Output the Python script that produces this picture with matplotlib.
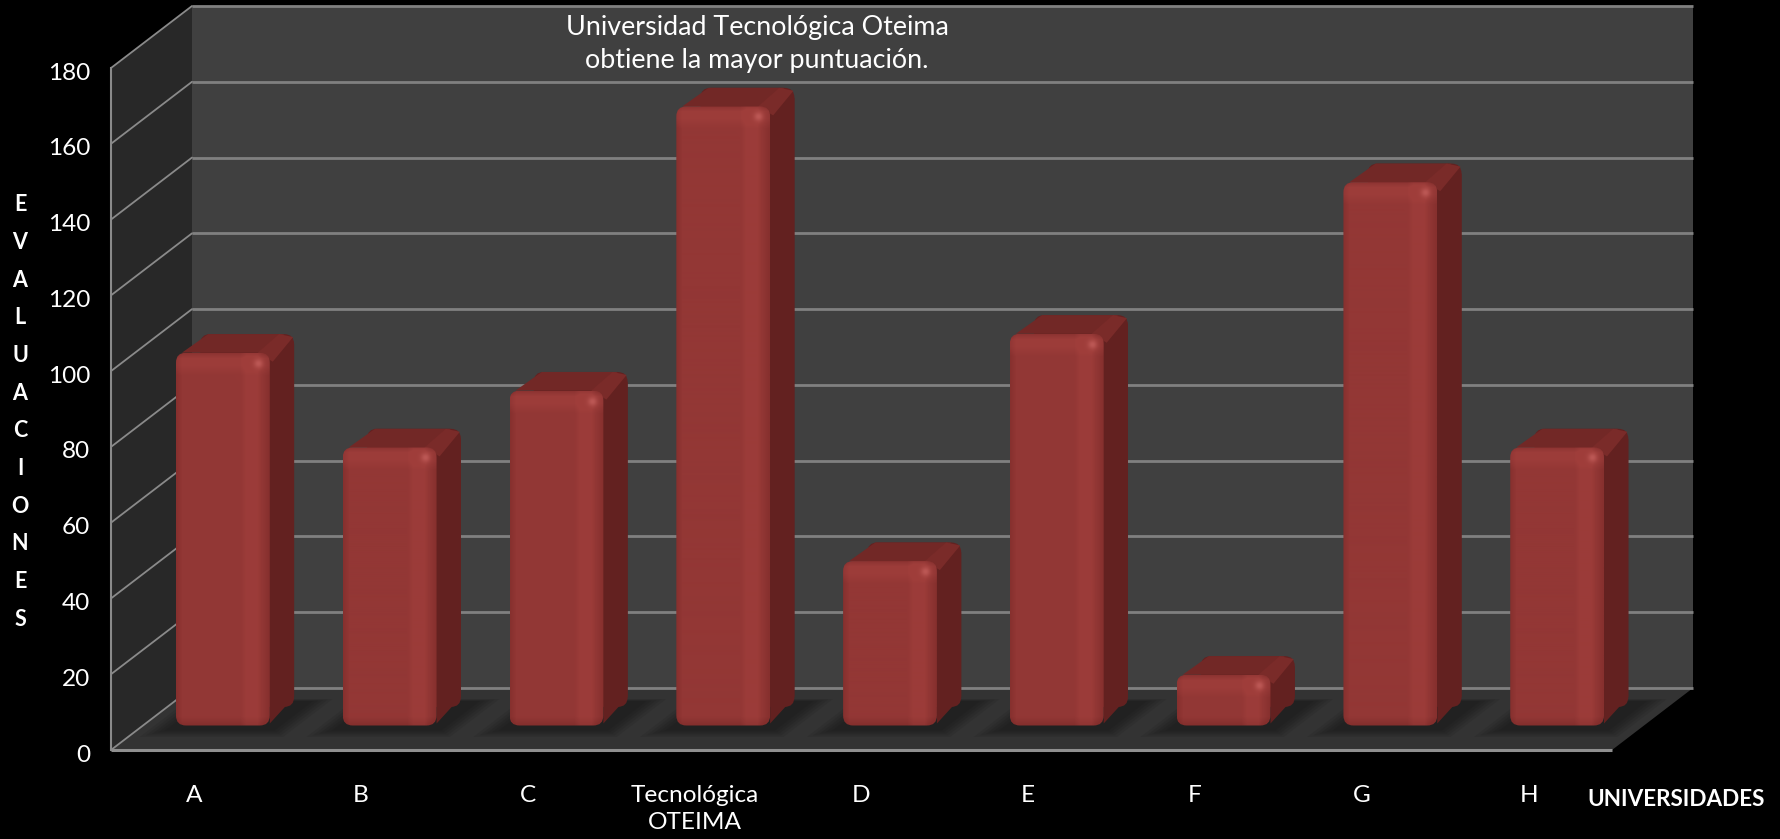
import numpy as np
import matplotlib
matplotlib.use("Agg")
import matplotlib.pyplot as plt
from matplotlib.patches import Polygon, FancyBboxPatch
from matplotlib.transforms import ScaledTranslation

categories = ["A", "B", "C", "Tecnológica\nOTEIMA", "D", "E", "F", "G", "H"]
values = [100, 75, 90, 165, 45, 105, 15, 145, 75]
y_ticks = [0, 20, 40, 60, 80, 100, 120, 140, 160, 180]
title_text = "Universidad Tecnológica Oteima\nobtiene la mayor puntuación."
x_title = "UNIVERSIDADES"
y_title = "EVALUACIONES"

W, H = 1781, 839
plt.rcParams["font.family"] = ["Lato", "DejaVu Sans"]
fig = plt.figure(figsize=(W / 100, H / 100), dpi=100, facecolor="black")
ax = fig.add_axes([111 / W, (H - 750) / H, 1501 / W, 682 / H])
ax.set_xlim(0, len(categories))
ax.set_ylim(0, y_ticks[-1])
ax.patch.set_visible(False)
for s in ax.spines.values():
    s.set_visible(False)

PX = 1501 / len(categories)          # pixels per category
PY = 682 / y_ticks[-1]               # pixels per value unit
DX, DY = 81 / PX, 62 / PY            # full depth of the box in data units


def P(x, y, d):
    return (x + d * DX, y + d * DY)


def poly(pts, color, z, **kw):
    ax.add_patch(Polygon(pts, closed=True, facecolor=color, edgecolor="none",
                         zorder=z, clip_on=False, **kw))


n = len(categories)
top = y_ticks[-1]
# walls and floor
poly([P(0, 0, 1), P(n, 0, 1), P(n, top, 1), P(0, top, 1)], "#404040", 1)
poly([P(0, 0, 0), P(0, 0, 1), P(0, top, 1), P(0, top, 0)], "#282828", 1)
poly([P(0, 0, 0), P(n, 0, 0), P(n, 0, 1), P(0, 0, 1)], "#333333", 1)

# floor shadows (soft edges by layering)
for i in range(n):
    for grow, alpha in [(0.0, 0.12), (0.025, 0.12), (0.05, 0.14), (0.075, 0.14), (0.10, 0.14)]:
        a, b = i + 0.07 + grow, i + 0.93 - grow
        d0, d1 = 0.21 + grow, 0.82 - grow * 0.3
        poly([P(a, 0, d0), P(b, 0, d0), P(b, 0, d1), P(a, 0, d1)],
             "#151515", 2, alpha=alpha)

# grid
for v in y_ticks:
    xs, ys = zip(P(0, v, 0), P(0, v, 1))
    ax.plot(xs, ys, color="#8a8a8a", lw=1.3, zorder=3, clip_on=False,
            solid_capstyle="round")
    xs, ys = zip(P(0, v, 1), P(n, v, 1))
    ax.plot(xs, ys, color="#808080", lw=2.0, zorder=3, clip_on=False,
            solid_capstyle="butt")
xs, ys = zip(P(0, 0, 0), P(0, top, 0))
ax.plot(xs, ys, color="#8a8a8a", lw=1.5, zorder=3, clip_on=False)
xs, ys = zip(P(0, 0, 0), P(n, 0, 0))
ax.plot(xs, ys, color="#8f8f8f", lw=2.2, zorder=3, clip_on=False, solid_capstyle="butt")

BASE = np.array([0x93, 0x37, 0x35]) / 255
LIGHT = np.array([0x9E, 0x3D, 0x3A]) / 255
DARK = np.array([0x86, 0x30, 0x2E]) / 255
SPOT = np.array([0xBC, 0x58, 0x55]) / 255
TOPC, SIDEC, SIDEC2 = "#722826", "#632120", "#7A2B29"


def ramp(n_px, stops):
    pos, val = zip(*stops)
    return np.interp(np.arange(n_px), pos, val)


def face_image(w, h):
    xp = ramp(w, [(0, -1), (6, 0), (w - 30, 0), (w - 24, .8), (w - 13, .8), (w - 9, 0), (w - 1, -1)])
    yp = ramp(h, [(0, -.5), (5, .9), (12, .9), (22, 0), (h - 10, 0), (h - 1, -1.2)])
    t = np.clip(xp[None, :] + np.maximum(yp, 0)[:, None], -1, 1.1) + np.minimum(yp, 0)[:, None]
    t = np.clip(t, -1.2, 1.1)
    img = np.zeros((h, w, 3))
    for c in range(3):
        img[..., c] = np.where(t >= 0, BASE[c] + t * (LIGHT[c] - BASE[c]),
                               BASE[c] + (-t) * (DARK[c] - BASE[c]))
    yy, xx = np.mgrid[0:h, 0:w]
    g = np.exp(-(((xx - (w - 12)) / 4.5) ** 2 + ((yy - 10) / 4.5) ** 2))[..., None]
    return img * (1 - g) + SPOT * g


BAR_L, BAR_W = 0.2245, 0.5625
D0, D1 = 0.34, 0.64
INSET_B, INSET_T = 0.9, 0.7
R = 10.0
for i, v in enumerate(values):
    x0 = i + BAR_L
    x1 = x0 + BAR_W
    fx0, fy0 = P(x0, INSET_B, D0)
    fx1, fy1 = P(x1, v - INSET_T, D0)
    bx0, by0 = P(x0, INSET_B, D1)
    bx1, by1 = P(x1, v - INSET_T, D1)
    rx, ry = R / PX, R / PY
    z = 5 + i * 0.01
    # rear silhouette
    ax.add_patch(FancyBboxPatch((bx0, by0), bx1 - bx0, by1 - by0,
                                boxstyle=f"round,pad=0,rounding_size={rx}",
                                mutation_aspect=ry / rx, fc=SIDEC, ec="none",
                                zorder=z, clip_on=False))
    # side
    poly([(fx1, fy0 + ry * .2), (bx1, by0 + ry), (bx1, by1 - ry), (fx1, fy1 - ry * .3)], SIDEC, z)
    # top
    poly([(fx0 + rx * .6, fy1), (bx0 + rx * .8, by1), (bx1 - rx, by1), (fx1 - rx * .3, fy1)], TOPC, z)
    # lighter edge between top and side
    poly([(fx1 - rx * 1.2, fy1), (bx1 - rx * 1.5, by1), (bx1 - rx * .1, by1 - ry * .3),
          (fx1 + rx * .3, fy1 - ry * .9)], SIDEC2, z)
    # front face
    w_px = int(round((fx1 - fx0) * PX))
    h_px = int(round((fy1 - fy0) * PY))
    clip = FancyBboxPatch((fx0, fy0), fx1 - fx0, fy1 - fy0,
                          boxstyle=f"round,pad=0,rounding_size={rx}",
                          mutation_aspect=ry / rx, fc="none", ec="none",
                          transform=ax.transData)
    ax.add_patch(clip)
    im = ax.imshow(face_image(w_px, h_px), extent=(fx0, fx1, fy0, fy1), origin="upper",
                   aspect="auto", interpolation="bilinear", zorder=z + .005)
    im.set_clip_path(clip)

ax.set_xlim(0, n)
ax.set_ylim(0, top)
ax.set_aspect("auto")

# ticks
ax.set_xticks(np.arange(n) + 0.5, categories)
ax.set_yticks(y_ticks, [str(t) for t in y_ticks])
ax.tick_params(axis="x", length=0, pad=25, colors="white", labelsize=17.6)
ax.tick_params(axis="y", length=0, pad=15, colors="white", labelsize=17.6)
for lab in ax.get_xticklabels():
    lab.set_linespacing(1.36)
shift_down = ScaledTranslation(0, -3 / 100, fig.dpi_scale_trans)
for lab in ax.get_yticklabels():
    lab.set_transform(lab.get_transform() + shift_down)

# texts
fig.text(757 / W, 1 - 44 / H, title_text, color="white", fontsize=19.4, ha="center",
         va="center", linespacing=1.42)
fig.text(1765 / W, 1 - 800 / H, x_title, color="white", fontsize=16.2, fontweight="bold",
         ha="right", va="center")
fig.text(20 / W, 1 - 412 / H, "\n".join(y_title), color="white", fontsize=15.5,
         fontweight="bold", ha="center", va="center", linespacing=1.98, multialignment="center")

fig.savefig("out.png", dpi=100, facecolor="black")
